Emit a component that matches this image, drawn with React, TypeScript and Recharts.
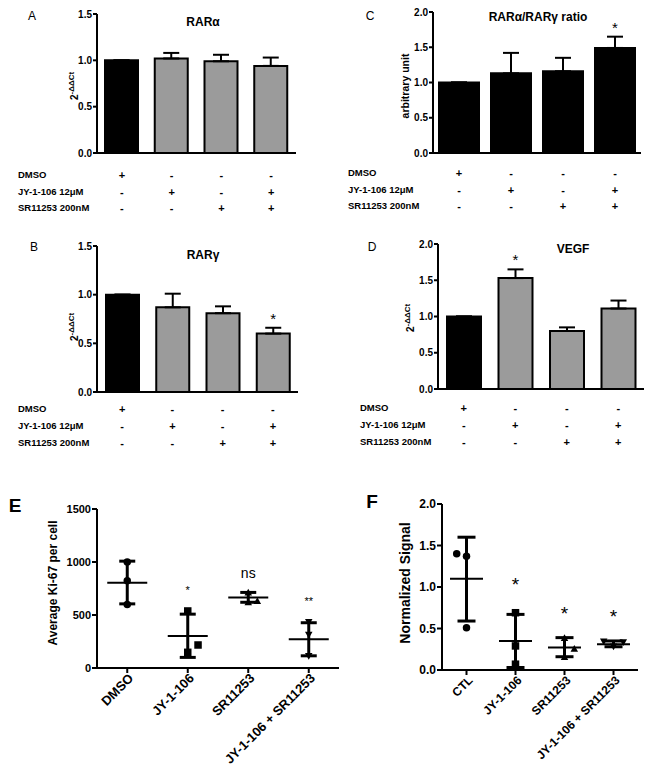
import React from "react";
import {
  Bar,
  BarChart,
  Cell,
  ErrorBar,
  LabelList,
  Scatter,
  ScatterChart,
  XAxis,
  YAxis,
} from "recharts";

const FONT = '"Liberation Sans", Arial, sans-serif';

// treatment groups shared by the qPCR panels (A-D)
const GROUPS = ["DMSO", "JY-1-106", "SR11253", "JY-1-106 + SR11253"];
const TREATMENTS = ["DMSO", "JY-1-106 12μM", "SR11253 200nM"];
const TREATMENT_SIGNS = [
  ["+", "-", "-", "-"],
  ["-", "+", "-", "+"],
  ["-", "-", "+", "+"],
];

// A - RARα
const RARA_MEAN = [1.0, 1.02, 0.99, 0.94];
const RARA_ERR = [0, 0.06, 0.07, 0.09];
const RARA_SIG = ["", "", "", ""];

// B - RARγ
const RARG_MEAN = [1.0, 0.87, 0.81, 0.6];
const RARG_ERR = [0, 0.14, 0.07, 0.06];
const RARG_SIG = ["", "", "", "*"];

// C - ratio
const RATIO_MEAN = [1.0, 1.13, 1.16, 1.49];
const RATIO_ERR = [0, 0.29, 0.19, 0.16];
const RATIO_SIG = ["", "", "", "*"];

// D - VEGF
const VEGF_MEAN = [1.0, 1.53, 0.8, 1.11];
const VEGF_ERR = [0, 0.12, 0.05, 0.11];
const VEGF_SIG = ["", "*", "", ""];

// E - Ki-67
const KI67_LABELS = ["DMSO", "JY-1-106", "SR11253", "JY-1-106 + SR11253"];
const KI67_POINTS = [
  [1000, 823, 600],
  [538, 217, 148],
  [715, 625, 636],
  [430, 310, 110],
];
const KI67_JITTER = [
  [0, 0, 0],
  [0, 0.17, 0],
  [0, 0, 0.15],
  [0, 0, 0],
];
const KI67_MEAN = [805, 302, 665, 272];
const KI67_SD_LOW = [605, 100, 620, 115];
const KI67_SD_HIGH = [1008, 508, 713, 427];
const KI67_SIG = ["", "*", "ns", "**"];
const KI67_SIG_Y = [0, 735, 900, 632];

// F - normalized signal
const SIGNAL_LABELS = ["CTL", "JY-1-106", "SR11253", "JY-1-106 + SR11253"];
const SIGNAL_POINTS = [
  [1.4, 1.37, 0.51],
  [0.69, 0.29, 0.07],
  [0.39, 0.26, 0.16],
  [0.34, 0.33, 0.28],
];
const SIGNAL_JITTER = [
  [-0.2, 0, 0],
  [0, 0, 0],
  [0, 0.2, 0],
  [-0.2, 0.2, 0],
];
const SIGNAL_MEAN = [1.1, 0.35, 0.27, 0.31];
const SIGNAL_SD_LOW = [0.59, 0.03, 0.16, 0.28];
const SIGNAL_SD_HIGH = [1.6, 0.67, 0.39, 0.35];
const SIGNAL_SIG = ["", "*", "*", "*"];
const SIGNAL_SIG_Y = [0, 1.03, 0.68, 0.65];

const MARKERS = ["circle", "square", "triangle", "invTriangle"];

const GRAY = "#9b9b9b";

function Txt({
  x,
  y,
  size = 10,
  bold = false,
  anchor = "middle",
  rotate = false,
  children,
}: any) {
  const tx = anchor === "start" ? "0" : "-50%";
  return (
    <div
      style={{
        position: "absolute",
        left: x,
        top: y,
        transform: `translate(${tx},-50%)${rotate ? " rotate(-90deg)" : ""}`,
        fontFamily: FONT,
        fontSize: size,
        fontWeight: bold ? 700 : 400,
        whiteSpace: "nowrap",
        lineHeight: 1,
        color: "#000",
      }}
    >
      {children}
    </div>
  );
}

function starLabel(lp: any, errs: number[], sig: string[]) {
  const { x, y, width, height, index, value } = lp;
  if (!sig[index]) return null;
  const top = y - (errs[index] * height) / value;
  return (
    <text
      x={x + width / 2}
      y={top - 4}
      textAnchor="middle"
      fontSize={15}
      fontFamily={FONT}
      fill="#000"
    >
      {sig[index]}
    </text>
  );
}

function BarPanel(p: any) {
  const data = GROUPS.map((g, i) => ({
    name: g,
    mean: p.means[i],
    err: [0, p.errs[i]],
  }));
  return (
    <div style={{ position: "absolute", left: p.left, top: p.top }}>
      <BarChart
        width={p.width}
        height={p.height}
        data={data}
        margin={p.margin}
        barSize={p.barSize}
      >
        <XAxis
          dataKey="name"
          tick={false}
          tickLine={false}
          height={1}
          axisLine={{ stroke: "#000", strokeWidth: 2 }}
        />
        <YAxis
          width={p.yAxisWidth}
          domain={[0, p.yMax]}
          ticks={p.ticks}
          interval={0}
          tickFormatter={(v: number) => v.toFixed(1)}
          tickSize={4}
          tickMargin={1}
          axisLine={{ stroke: "#000", strokeWidth: 2 }}
          tickLine={{ stroke: "#000", strokeWidth: 2 }}
          tick={{ fill: "#000", fontSize: 10, fontWeight: 700, fontFamily: FONT }}
        />
        <Bar dataKey="mean" stroke="#000" strokeWidth={2} isAnimationActive={false}>
          {data.map((d, i) => (
            <Cell key={d.name} fill={p.fills[i]} />
          ))}
          <ErrorBar dataKey="err" width={8} stroke="#000" strokeWidth={2} direction="y" />
          <LabelList
            dataKey="mean"
            content={(lp: any) => starLabel(lp, p.errs, p.sig)}
          />
        </Bar>
      </BarChart>
    </div>
  );
}

function TreatmentTable({ labelX, plotLeft, plotRight, rowYs }: any) {
  const step = (plotRight - plotLeft) / 4;
  return (
    <>
      {TREATMENTS.map((t, r) => (
        <React.Fragment key={t}>
          <Txt x={labelX} y={rowYs[r]} anchor="start" bold size={9.5}>
            {t}
          </Txt>
          {TREATMENT_SIGNS[r].map((s, c) => (
            <Txt key={c} x={plotLeft + (c + 0.5) * step} y={rowYs[r]} bold size={11}>
              {s}
            </Txt>
          ))}
        </React.Fragment>
      ))}
    </>
  );
}

function markerShape(kind: string, sz: number) {
  return (sp: any) => {
    const { cx, cy } = sp;
    if (kind === "circle") return <circle cx={cx} cy={cy} r={sz / 2} fill="#000" />;
    if (kind === "square")
      return <rect x={cx - sz / 2} y={cy - sz / 2} width={sz} height={sz} fill="#000" />;
    const h = sz * 0.9;
    if (kind === "triangle")
      return (
        <polygon
          points={`${cx},${cy - h / 2} ${cx - sz / 2},${cy + h / 2} ${cx + sz / 2},${cy + h / 2}`}
          fill="#000"
        />
      );
    return (
      <polygon
        points={`${cx},${cy + h / 2} ${cx - sz / 2},${cy - h / 2} ${cx + sz / 2},${cy - h / 2}`}
        fill="#000"
      />
    );
  };
}

function RotTick({ x, y, payload, labels, size }: any) {
  return (
    <g transform={`translate(${x + 7},${y + 4})`}>
      <text
        x={0}
        y={0}
        textAnchor="end"
        transform="rotate(-45)"
        fontSize={size}
        fontWeight={700}
        fontFamily={FONT}
        fill="#000"
      >
        {labels[Math.round(payload.value)]}
      </text>
    </g>
  );
}

function DotPanel(p: any) {
  const meanData = p.labels.map((_: string, g: number) => ({
    x: g,
    y: p.mean[g],
    err: [p.mean[g] - p.sdLow[g], p.sdHigh[g] - p.mean[g]],
  }));
  const sigData = p.labels
    .map((_: string, g: number) => ({ x: g, y: p.sigY[g], label: p.sig[g] }))
    .filter((d: any) => d.label);
  return (
    <div style={{ position: "absolute", left: p.left, top: p.top }}>
      <ScatterChart width={p.width} height={p.height} margin={p.margin}>
        <XAxis
          type="number"
          dataKey="x"
          domain={[-0.5, 3.5]}
          ticks={[0, 1, 2, 3]}
          interval={0}
          height={p.xAxisHeight}
          tickSize={5}
          axisLine={{ stroke: "#000", strokeWidth: 2 }}
          tickLine={{ stroke: "#000", strokeWidth: 2 }}
          tick={(tp: any) => <RotTick {...tp} labels={p.labels} size={p.labelFont} />}
        />
        <YAxis
          type="number"
          dataKey="y"
          width={p.yAxisWidth}
          domain={[0, p.yMax]}
          ticks={p.ticks}
          interval={0}
          tickFormatter={p.tickFmt}
          tickSize={5}
          tickMargin={1}
          axisLine={{ stroke: "#000", strokeWidth: 2 }}
          tickLine={{ stroke: "#000", strokeWidth: 2 }}
          tick={{ fill: "#000", fontSize: p.tickFont, fontWeight: 700, fontFamily: FONT }}
        />
        <Scatter
          data={meanData}
          isAnimationActive={false}
          shape={(sp: any) => (
            <line
              x1={sp.cx - p.meanHalf}
              x2={sp.cx + p.meanHalf}
              y1={sp.cy}
              y2={sp.cy}
              stroke="#000"
              strokeWidth={2}
            />
          )}
        >
          <ErrorBar dataKey="err" direction="y" width={p.capHalf} stroke="#000" strokeWidth={3} />
        </Scatter>
        {p.points.map((vals: number[], g: number) => (
          <Scatter
            key={g}
            data={vals.map((v, k) => ({ x: g + p.jitter[g][k], y: v }))}
            isAnimationActive={false}
            shape={markerShape(MARKERS[g], p.markerSize)}
          />
        ))}
        <Scatter
          data={sigData}
          isAnimationActive={false}
          shape={(sp: any) => (
            <text
              x={sp.cx}
              y={sp.cy}
              textAnchor="middle"
              dominantBaseline="central"
              fontSize={sp.payload.label === "ns" ? 14 : p.sigFont}
              fontFamily={FONT}
              fill="#000"
            >
              {sp.payload.label}
            </text>
          )}
        />
      </ScatterChart>
    </div>
  );
}

const BAR_FILLS = ["#000", GRAY, GRAY, GRAY];
const RATIO_FILLS = ["#000", "#000", "#000", "#000"];

export default function App() {
  return (
    <div
      style={{
        position: "absolute",
        left: 0,
        top: 0,
        width: 654,
        height: 777,
        background: "#fff",
        overflow: "hidden",
      }}
    >
      {/* A */}
      <Txt x={32} y={16} size={12}>A</Txt>
      <Txt x={203} y={22} size={12} bold>RARα</Txt>
      <Txt x={74} y={86} size={10} bold rotate>
        2<sup style={{ fontSize: 8 }}>-ΔΔCt</sup>
      </Txt>
      <BarPanel
        left={0}
        top={0}
        width={300}
        height={160}
        margin={{ top: 14, right: 4, bottom: 6, left: 0 }}
        yAxisWidth={97}
        yMax={1.5}
        ticks={[0, 0.5, 1, 1.5]}
        means={RARA_MEAN}
        errs={RARA_ERR}
        sig={RARA_SIG}
        fills={BAR_FILLS}
        barSize={33}
      />
      <TreatmentTable labelX={18} plotLeft={97} plotRight={296} rowYs={[175, 191.5, 207.5]} />

      {/* C */}
      <Txt x={370} y={16} size={12}>C</Txt>
      <Txt x={538} y={17} size={12} bold>RARα/RARγ ratio</Txt>
      <Txt x={405} y={86} size={10.5} bold rotate>arbitrary unit</Txt>
      <BarPanel
        left={320}
        top={0}
        width={330}
        height={160}
        margin={{ top: 12, right: 9, bottom: 6, left: 0 }}
        yAxisWidth={113}
        yMax={2}
        ticks={[0, 0.5, 1, 1.5, 2]}
        means={RATIO_MEAN}
        errs={RATIO_ERR}
        sig={RATIO_SIG}
        fills={RATIO_FILLS}
        barSize={40}
      />
      <TreatmentTable labelX={348} plotLeft={433} plotRight={641} rowYs={[173, 189.5, 206]} />

      {/* B */}
      <Txt x={34} y={247} size={12}>B</Txt>
      <Txt x={203} y={255} size={12} bold>RARγ</Txt>
      <Txt x={74} y={327} size={10} bold rotate>
        2<sup style={{ fontSize: 8 }}>-ΔΔCt</sup>
      </Txt>
      <BarPanel
        left={0}
        top={232}
        width={300}
        height={165}
        margin={{ top: 14, right: 2, bottom: 4, left: 0 }}
        yAxisWidth={97}
        yMax={1.5}
        ticks={[0, 0.5, 1, 1.5]}
        means={RARG_MEAN}
        errs={RARG_ERR}
        sig={RARG_SIG}
        fills={BAR_FILLS}
        barSize={33}
      />
      <TreatmentTable labelX={18} plotLeft={97} plotRight={298} rowYs={[409, 426, 443]} />

      {/* D */}
      <Txt x={372} y={247} size={12}>D</Txt>
      <Txt x={573} y={249} size={12} bold>VEGF</Txt>
      <Txt x={410} y={318} size={10} bold rotate>
        2<sup style={{ fontSize: 8 }}>-ΔΔCt</sup>
      </Txt>
      <BarPanel
        left={320}
        top={232}
        width={330}
        height={165}
        margin={{ top: 12, right: 6, bottom: 7, left: 0 }}
        yAxisWidth={118}
        yMax={2}
        ticks={[0, 0.5, 1, 1.5, 2]}
        means={VEGF_MEAN}
        errs={VEGF_ERR}
        sig={VEGF_SIG}
        fills={BAR_FILLS}
        barSize={34}
      />
      <TreatmentTable labelX={360} plotLeft={438} plotRight={644} rowYs={[408, 425, 441.5]} />

      {/* E */}
      <Txt x={15} y={505} size={19} bold>E</Txt>
      <Txt x={53} y={583} size={12} bold rotate>Average Ki-67 per cell</Txt>
      <DotPanel
        left={0}
        top={495}
        width={345}
        height={280}
        margin={{ top: 14, right: 6, bottom: 0, left: 0 }}
        yAxisWidth={97}
        xAxisHeight={107}
        yMax={1500}
        ticks={[0, 500, 1000, 1500]}
        tickFmt={(v: number) => String(v)}
        tickFont={11}
        labelFont={13}
        labels={KI67_LABELS}
        points={KI67_POINTS}
        jitter={KI67_JITTER}
        mean={KI67_MEAN}
        sdLow={KI67_SD_LOW}
        sdHigh={KI67_SD_HIGH}
        sig={KI67_SIG}
        sigY={KI67_SIG_Y}
        sigFont={11}
        meanHalf={20}
        capHalf={8}
        markerSize={7.5}
      />

      {/* F */}
      <Txt x={372} y={501} size={19} bold>F</Txt>
      <Txt x={405} y={583} size={14} bold rotate>Normalized Signal</Txt>
      <DotPanel
        left={320}
        top={490}
        width={330}
        height={285}
        margin={{ top: 14, right: 12, bottom: 0, left: 0 }}
        yAxisWidth={122}
        xAxisHeight={105}
        yMax={2}
        ticks={[0, 0.5, 1, 1.5, 2]}
        tickFmt={(v: number) => v.toFixed(1)}
        tickFont={12}
        labelFont={12}
        labels={SIGNAL_LABELS}
        points={SIGNAL_POINTS}
        jitter={SIGNAL_JITTER}
        mean={SIGNAL_MEAN}
        sdLow={SIGNAL_SD_LOW}
        sdHigh={SIGNAL_SD_HIGH}
        sig={SIGNAL_SIG}
        sigY={SIGNAL_SIG_Y}
        sigFont={19}
        meanHalf={16.5}
        capHalf={9}
        markerSize={7.5}
      />
    </div>
  );
}
